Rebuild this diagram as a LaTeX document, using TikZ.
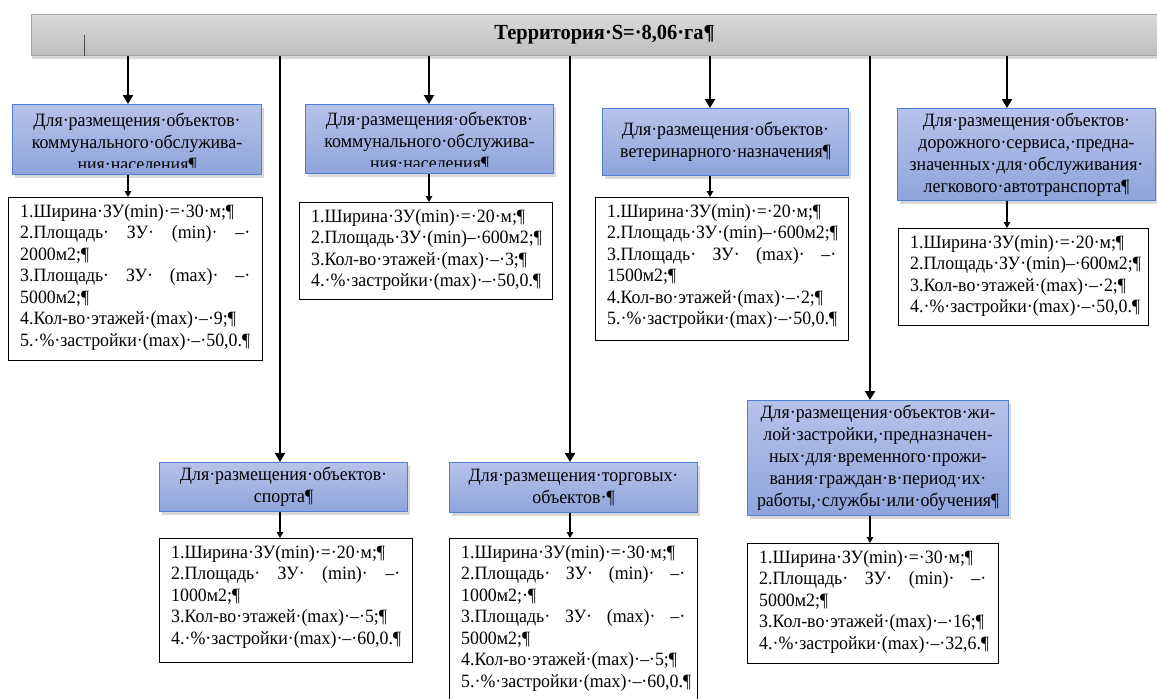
\documentclass[tikz,border=0pt]{standalone}
\usepackage{fontspec}
\setmainfont{Liberation Serif}[FakeStretch=0.95]
\usetikzlibrary{arrows.meta,shadows}

\definecolor{barTop}{HTML}{DADADA}
\definecolor{barBot}{HTML}{BDBDBD}
\definecolor{barEdge}{HTML}{A6A6A6}
\definecolor{boxTop}{HTML}{B6C3EA}
\definecolor{boxBot}{HTML}{8EA4DB}
\definecolor{boxEdge}{HTML}{4F7FD0}

% a row stretched to the full width of its box
\newcommand{\fillrow}[2]{\hbox to #1{#2}}

\tikzset{
  bar/.style={draw=barEdge, line width=1.2pt, top color=barTop, bottom color=barBot,
    anchor=north west, inner sep=0pt,
    drop shadow={shadow xshift=0pt, shadow yshift=-3pt, opacity=0.3},
    font=\fontsize{21.5}{24}\selectfont\bfseries},
  catbox/.style={draw=boxEdge, line width=1.1pt, top color=boxTop, bottom color=boxBot,
    anchor=north west, inner sep=0pt,
    drop shadow={shadow xshift=2pt, shadow yshift=-3pt, opacity=0.3}},
  cattext/.style={align=center, inner sep=0pt, font=\fontsize{18.8}{22}\selectfont},
  databox/.style={draw=black, line width=1.3pt, fill=white, anchor=north west, inner sep=0pt},
  datatext/.style={align=left, anchor=north west, inner sep=0pt,
    font=\fontsize{18.8}{21.5}\selectfont},
  feed/.style={line width=2.6pt, -{Triangle[width=10pt,length=9pt]}},
  link/.style={line width=1.4pt, -{Triangle[width=6.5pt,length=6pt]}},
  cursor/.style={line width=0.8pt, draw=black!70},
}

\begin{document}
\begin{tikzpicture}[x=1pt,y=-1pt]
\useasboundingbox (0,0) rectangle (1157,699);

% column positions of the connectors
\coordinate (x1) at (128,0);
\coordinate (x2) at (280,0);
\coordinate (x3) at (429,0);
\coordinate (x4) at (570,0);
\coordinate (x5) at (710,0);
\coordinate (x6) at (870,0);
\coordinate (x7) at (1007,0);

% headline bar
\node[bar, minimum width=1146pt, minimum height=41pt] (bar) at (31,14) {Территория·S=·8,06·га¶};
\draw[cursor] (84,35) -- (84,56);

% category boxes
\node[catbox, minimum width=249pt, minimum height=70pt] (b1) at (12,104) {};
\node[catbox, minimum width=248pt, minimum height=69pt] (b2) at (305,104) {};
\node[catbox, minimum width=246pt, minimum height=67pt] (b3) at (602,108) {};
\node[catbox, minimum width=258pt, minimum height=92pt] (b4) at (897,108) {};
\node[catbox, minimum width=248pt, minimum height=49pt] (b5) at (159,462) {};
\node[catbox, minimum width=248pt, minimum height=50pt] (b6) at (449,462) {};
\node[catbox, minimum width=261pt, minimum height=115pt] (b7) at (747,400) {};

\begin{scope}
  \clip (b1.north west) rectangle ([yshift=8pt]b1.south east);
  \node[cattext] (t1) at ([yshift=-3pt]b1.center) {Для·размещения·объектов·\\коммунального·обслужива-\\ния·населения¶};
\end{scope}
\begin{scope}
  \clip (b2.north west) rectangle ([yshift=8pt]b2.south east);
  \node[cattext] (t2) at ([yshift=-3pt]b2.center) {Для·размещения·объектов·\\коммунального·обслужива-\\ния·населения¶};
\end{scope}
\node[cattext] (t3) at (b3.center) {Для·размещения·объектов·\\ветеринарного·назначения¶};
\node[cattext] (t4) at (b4.center) {Для·размещения·объектов·\\дорожного·сервиса,·предна-\\значенных·для·обслуживания·\\легкового·автотранспорта¶};
\node[cattext] (t5) at (b5.center) {Для·размещения·объектов·\\спорта¶};
\node[cattext] (t6) at (b6.center) {Для·размещения·торговых·\\объектов·¶};
\node[cattext] (t7) at (b7.center) {Для·размещения·объектов·жи-\\лой·застройки,·предназначен-\\ных·для·временного·прожи-\\вания·граждан·в·период·их·\\работы,·службы·или·обучения¶};

% parameter boxes
\node[databox, minimum width=254pt, minimum height=163pt] (d1) at (8,197) {};
\node[databox, minimum width=253pt, minimum height=97pt] (d2) at (299,202) {};
\node[databox, minimum width=253pt, minimum height=143pt] (d3) at (595,197) {};
\node[databox, minimum width=250pt, minimum height=97pt] (d4) at (898,228) {};
\node[databox, minimum width=253pt, minimum height=124pt] (d5) at (159,538) {};
\node[databox, minimum width=248pt, minimum height=175pt] (d6) at (449,538) {};
\node[databox, minimum width=251pt, minimum height=120pt] (d7) at (747,543) {};

\node[datatext] (p1) at ([xshift=12pt,yshift=-7pt]d1.north west) {1.Ширина·ЗУ(min)·=·30·м;¶\\
\fillrow{230pt}{2.Площадь·\hfill ЗУ·\hfill (min)·\hfill –·}\\2000м2;¶\\
\fillrow{230pt}{3.Площадь·\hfill ЗУ·\hfill (max)·\hfill –·}\\5000м2;¶\\
4.Кол-во·этажей·(max)·–·9;¶\\5.·\%·застройки·(max)·–·50,0.¶};
\node[datatext] (p2) at ([xshift=12pt,yshift=-7pt]d2.north west) {1.Ширина·ЗУ(min)·=·20·м;¶\\
2.Площадь·ЗУ·(min)–·600м2;¶\\3.Кол-во·этажей·(max)·–·3;¶\\4.·\%·застройки·(max)·–·50,0.¶};
\node[datatext] (p3) at ([xshift=12pt,yshift=-7pt]d3.north west) {1.Ширина·ЗУ(min)·=·20·м;¶\\
2.Площадь·ЗУ·(min)–·600м2;¶\\
\fillrow{229pt}{3.Площадь·\hfill ЗУ·\hfill (max)·\hfill –·}\\1500м2;¶\\
4.Кол-во·этажей·(max)·–·2;¶\\5.·\%·застройки·(max)·–·50,0.¶};
\node[datatext] (p4) at ([xshift=12pt,yshift=-7pt]d4.north west) {1.Ширина·ЗУ(min)·=·20·м;¶\\
2.Площадь·ЗУ·(min)–·600м2;¶\\3.Кол-во·этажей·(max)·–·2;¶\\4.·\%·застройки·(max)·–·50,0.¶};
\node[datatext] (p5) at ([xshift=12pt,yshift=-7pt]d5.north west) {1.Ширина·ЗУ(min)·=·20·м;¶\\
\fillrow{229pt}{2.Площадь·\hfill ЗУ·\hfill (min)·\hfill –·}\\1000м2;¶\\
3.Кол-во·этажей·(max)·–·5;¶\\4.·\%·застройки·(max)·–·60,0.¶};
\node[datatext] (p6) at ([xshift=12pt,yshift=-7pt]d6.north west) {1.Ширина·ЗУ(min)·=·30·м;¶\\
\fillrow{224pt}{2.Площадь·\hfill ЗУ·\hfill (min)·\hfill –·}\\1000м2;·¶\\
\fillrow{224pt}{3.Площадь·\hfill ЗУ·\hfill (max)·\hfill –·}\\5000м2;¶\\
4.Кол-во·этажей·(max)·–·5;¶\\5.·\%·застройки·(max)·–·60,0.¶};
\node[datatext] (p7) at ([xshift=12pt,yshift=-7pt]d7.north west) {1.Ширина·ЗУ(min)·=·30·м;¶\\
\fillrow{227pt}{2.Площадь·\hfill ЗУ·\hfill (min)·\hfill –·}\\5000м2;¶\\
3.Кол-во·этажей·(max)·–·16;¶\\4.·\%·застройки·(max)·–·32,6.¶};

% feeds from the headline bar
\draw[feed] (bar.south -| x1) -- (b1.north -| x1);
\draw[feed] (bar.south -| x2) -- (b5.north -| x2);
\draw[feed] (bar.south -| x3) -- (b2.north -| x3);
\draw[feed] (bar.south -| x4) -- (b6.north -| x4);
\draw[feed] (bar.south -| x5) -- (b3.north -| x5);
\draw[feed] (bar.south -| x6) -- (b7.north -| x6);
\draw[feed] (bar.south -| x7) -- (b4.north -| x7);

% links from categories to their parameters
\draw[link] (b1.south -| x1) -- (d1.north -| x1);
\draw[link] (b2.south -| x3) -- (d2.north -| x3);
\draw[link] (b3.south -| x5) -- (d3.north -| x5);
\draw[link] (b4.south -| x7) -- (d4.north -| x7);
\draw[link] (b5.south -| x2) -- (d5.north -| x2);
\draw[link] (b6.south -| x4) -- (d6.north -| x4);
\draw[link] (b7.south -| x6) -- (d7.north -| x6);
\end{tikzpicture}
\end{document}
